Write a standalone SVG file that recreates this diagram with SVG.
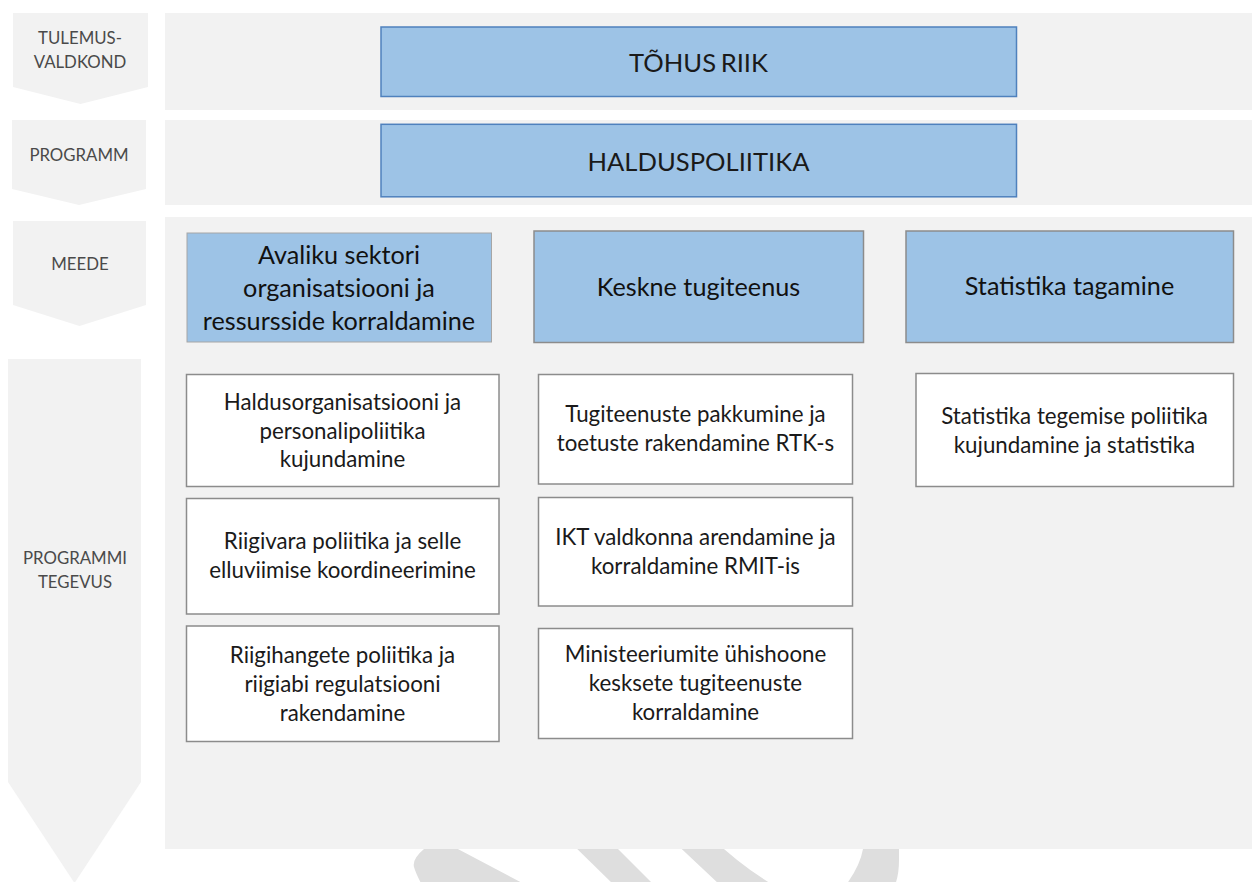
<svg xmlns="http://www.w3.org/2000/svg" width="1252" height="882" viewBox="0 0 1252 882">
<style>
.panel{fill:#f2f2f2}
.chev{fill:#f2f2f2}
.wm{fill:#dedede}
.lab{font-family:Lato,"Liberation Sans",sans-serif;font-weight:400;font-size:16.8px;fill:#4a4a4a;text-anchor:middle}
.top{fill:#9dc3e6;stroke:#4f81bd;stroke-width:1.5}
.meede{fill:#9dc3e6;stroke:#8c8c8c;stroke-width:1.5}
.meede2{fill:#9dc3e6;stroke:#a6a6a6;stroke-width:1}
.act{fill:#ffffff;stroke:#8c8c8c;stroke-width:1.5}
.tt{font-family:Lato,"Liberation Sans",sans-serif;font-weight:400;font-size:25.6px;fill:#1a1a1a;text-anchor:middle}
.mt{font-family:Lato,"Liberation Sans",sans-serif;font-size:25.2px;fill:#111;text-anchor:middle}
.at{font-family:Lato,"Liberation Sans",sans-serif;font-size:22.3px;fill:#1a1a1a;text-anchor:middle}
</style>
<rect width="1252" height="882" fill="#ffffff"/>
<g id="watermark">
<path class="wm" d="M433,838 L437,838 L526,885 L422,885 Q416,874 414,867 Q412,859 424,849 Z"/>
<path class="wm" d="M566,838 L607,838 L654,885 L614,885 Z"/>
<path class="wm" d="M670,838 L712,838 Q740,865 773,885 L720,885 Z"/>
<path class="wm" d="M864,838 L899,838 L899,860 Q899,875 895,885 L846,885 Q860,866 863,849 Z"/>
</g>
<g id="panels">
<rect class="panel" x="165" y="13" width="1087" height="97"/>
<rect class="panel" x="165" y="120" width="1087" height="85"/>
<rect class="panel" x="165" y="217" width="1087" height="632"/>
</g>
<g id="levels">
<g id="lvl-tulemus">
<polygon class="chev" points="13,13 148,13 148,87 80.5,104 13,87"/>
<text class="lab" x="80" y="44">TULEMUS-</text>
<text class="lab" x="80" y="68">VALDKOND</text>
</g>
<g id="lvl-programm">
<polygon class="chev" points="12,120 146,120 146,189 79,205 12,189"/>
<text class="lab" x="79" y="160.5">PROGRAMM</text>
</g>
<g id="lvl-meede">
<polygon class="chev" points="13,221 146,221 146,305 79.5,326 13,305"/>
<text class="lab" x="80" y="269.5">MEEDE</text>
</g>
<g id="lvl-tegevus">
<polygon class="chev" points="8,359 141,359 141,782 74.5,883 8,782"/>
<text class="lab" x="75" y="564">PROGRAMMI</text>
<text class="lab" x="75" y="587.5">TEGEVUS</text>
</g>
</g>
<g id="connectors"></g>
<g id="n-tohus-riik">
<rect class="top" x="381" y="27" width="635.5" height="69.5"/>
<text class="tt" x="698.5" y="71.5">TÕHUS<tspan dx="-2"> </tspan>RIIK</text>
</g>
<g id="n-halduspoliitika">
<rect class="top" x="381" y="124.3" width="635.5" height="72.5"/>
<text class="tt" x="698.5" y="170.5">HALDUSPOLIITIKA</text>
</g>
<g id="n-avaliku">
<rect class="meede2" x="187" y="233" width="304.5" height="109"/>
<text class="mt" x="339" y="263.5">Avaliku sektori</text>
<text class="mt" x="339" y="296.5">organisatsiooni ja</text>
<text class="mt" x="339" y="329.5">ressursside korraldamine</text>
</g>
<g id="n-keskne">
<rect class="meede" x="534" y="231" width="329.5" height="111.5"/>
<text class="mt" x="698.5" y="296">Keskne tugiteenus</text>
</g>
<g id="n-statistika">
<rect class="meede" x="906" y="231" width="327.5" height="111.5"/>
<text class="mt" x="1069.5" y="295">Statistika tagamine</text>
</g>
<g id="n-haldusorg">
<rect class="act" x="186.5" y="374.5" width="312.5" height="112"/>
<text class="at" x="342.5" y="409.5">Haldusorganisatsiooni ja</text>
<text class="at" x="342.5" y="438.5">personalipoliitika</text>
<text class="at" x="342.5" y="466.5">kujundamine</text>
</g>
<g id="n-riigivara">
<rect class="act" x="186.5" y="498.5" width="312.5" height="115.5"/>
<text class="at" x="342.5" y="548.5">Riigivara poliitika ja selle</text>
<text class="at" x="342.5" y="577.5">elluviimise koordineerimine</text>
</g>
<g id="n-riigihangete">
<rect class="act" x="186.5" y="626" width="312.5" height="115.5"/>
<text class="at" x="342.5" y="663">Riigihangete poliitika ja</text>
<text class="at" x="342.5" y="692">riigiabi regulatsiooni</text>
<text class="at" x="342.5" y="720.5">rakendamine</text>
</g>
<g id="n-tugiteenuste">
<rect class="act" x="538.5" y="374.5" width="314" height="109.5"/>
<text class="at" x="695.5" y="422">Tugiteenuste pakkumine ja</text>
<text class="at" x="695.5" y="450.5">toetuste rakendamine RTK-s</text>
</g>
<g id="n-ikt">
<rect class="act" x="538.5" y="497.5" width="314" height="108.5"/>
<text class="at" x="695.5" y="544.5">IKT valdkonna arendamine ja</text>
<text class="at" x="695.5" y="573.5">korraldamine RMIT-is</text>
</g>
<g id="n-ministeeriumite">
<rect class="act" x="538.5" y="628.5" width="314" height="110"/>
<text class="at" x="695.5" y="662">Ministeeriumite ühishoone</text>
<text class="at" x="695.5" y="691">kesksete tugiteenuste</text>
<text class="at" x="695.5" y="719.5">korraldamine</text>
</g>
<g id="n-statistika-tegemise">
<rect class="act" x="916" y="373.5" width="317.5" height="113"/>
<text class="at" x="1074.5" y="423.5">Statistika tegemise poliitika</text>
<text class="at" x="1074.5" y="452.5">kujundamine ja statistika</text>
</g>
</svg>
